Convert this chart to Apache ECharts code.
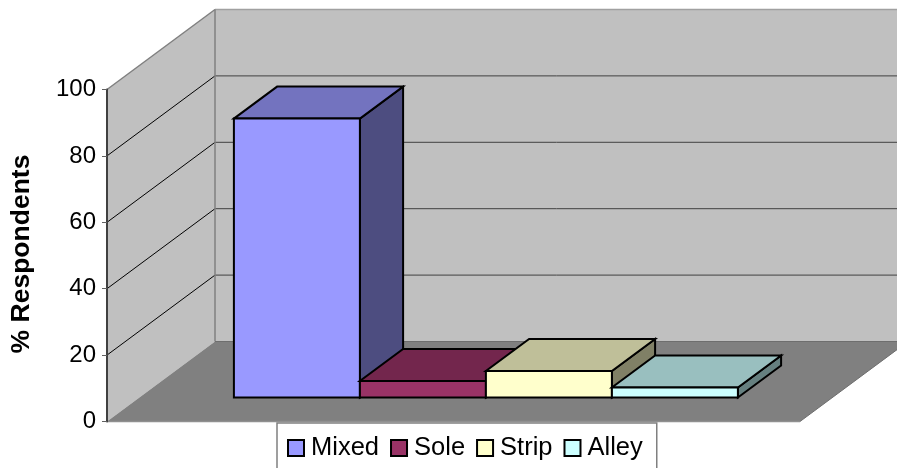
<!DOCTYPE html>
<html>
<head>
<meta charset="utf-8">
<style>html,body{margin:0;padding:0;background:#fff;overflow:hidden}#chart{width:897px;height:468px}</style>
<script src="https://cdn.jsdelivr.net/npm/echarts@6/dist/echarts.min.js"></script>
</head>
<body>
<div id="chart"></div>
<script>
// Cropping systems and the share of respondents using each one
const categories = ['Mixed', 'Sole', 'Strip', 'Alley'];
const respondents = [84, 5, 8, 3];
const yTicks = [0, 20, 40, 60, 80, 100];

const faceColors = ['#9999FF', '#993366', '#FFFFCC', '#CCFFFF'];
const topColors = ['#7373BF', '#73264D', '#BFBF99', '#99BFBF'];
const sideColors = ['#4D4D80', '#4D1A33', '#808066', '#668080'];

// Oblique projection: the full floor depth in pixels, and where the bars sit in it
const DEPTH = [108, -80];
const BAR_NEAR = 0.3;
const BAR_FAR = 0.7;

const shift = (p, f) => [p[0] + DEPTH[0] * f, p[1] + DEPTH[1] * f];

function poly(points, fill, stroke, lineWidth) {
  return {
    type: 'polygon',
    shape: { points },
    style: { fill, stroke, lineWidth, lineJoin: 'miter' }
  };
}

function line(a, b, stroke, lineWidth) {
  return {
    type: 'line',
    shape: { x1: a[0], y1: a[1], x2: b[0], y2: b[1] },
    style: { stroke, lineWidth }
  };
}

// Side wall, back wall, floor and gridlines of the chart box
function renderWalls(params, api) {
  const l0 = api.coord([-0.75, 0]);
  const r0 = api.coord([4.75, 0]);
  const l100 = api.coord([-0.75, 100]);
  const r100 = api.coord([4.75, 100]);
  const children = [
    poly([l0, shift(l0, 1), shift(l100, 1), l100], '#C0C0C0', null, 0),
    poly([shift(l0, 1), shift(r0, 1), shift(r100, 1), shift(l100, 1)], '#C0C0C0', null, 0),
    poly([l0, r0, shift(r0, 1), shift(l0, 1)], '#808080', null, 0)
  ];
  yTicks.slice(1, -1).forEach(t => {
    const a = api.coord([-0.75, t]);
    const b = api.coord([4.75, t]);
    children.push(line(a, shift(a, 1), '#000000', 1));
    children.push(line(shift(a, 1), shift(b, 1), '#404040', 1));
  });
  children.push(line(l100, shift(l100, 1), '#808080', 1.5));
  children.push(line(shift(l100, 1), shift(r100, 1), '#A0A0A0', 1.5));
  children.push(line(shift(l0, 1), shift(l100, 1), '#808080', 1.5));
  children.push(line(shift(l0, 1), shift(r0, 1), '#6E6E6E', 1));
  children.push(line(r0, shift(r0, 1), '#6E6E6E', 1));
  children.push(line(l0, r0, '#909090', 1.5));
  return { type: 'group', children };
}

// One box: front face, lit top and shaded right side
function renderBar(idx) {
  return function (params, api) {
    const i = api.value(0);
    const v = api.value(1);
    const fbl = shift(api.coord([i, 0]), BAR_NEAR);
    const fbr = shift(api.coord([i + 1, 0]), BAR_NEAR);
    const ftl = shift(api.coord([i, v]), BAR_NEAR);
    const ftr = shift(api.coord([i + 1, v]), BAR_NEAR);
    const step = BAR_FAR - BAR_NEAR;
    return {
      type: 'group',
      children: [
        poly([fbr, shift(fbr, step), shift(ftr, step), ftr], sideColors[idx], '#000', 2),
        poly([ftl, ftr, shift(ftr, step), shift(ftl, step)], topColors[idx], '#000', 2),
        poly([fbl, fbr, ftr, ftl], faceColors[idx], '#000', 2)
      ]
    };
  };
}

const barSeries = categories.map((name, idx) => ({
  name,
  type: 'custom',
  z: 3 + idx,
  silent: true,
  itemStyle: { color: faceColors[idx], borderColor: '#000', borderWidth: 1.5 },
  renderItem: renderBar(idx),
  data: [[idx, respondents[idx]]]
}));

const chart = echarts.init(document.getElementById('chart'), null, { renderer: 'canvas' });
chart.setOption({
  animation: false,
  backgroundColor: '#fff',
  textStyle: { fontFamily: '"Liberation Sans", Arial, sans-serif' },
  grid: { left: 107, top: 89.5, width: 693, height: 332 },
  xAxis: { type: 'value', min: -0.75, max: 4.75, show: false },
  yAxis: {
    type: 'value',
    min: 0,
    max: 100,
    interval: 20,
    z: 10,
    name: '% Respondents',
    nameLocation: 'middle',
    nameRotate: 90,
    nameGap: 72,
    nameTextStyle: {
      color: '#000',
      fontSize: 26.5,
      fontWeight: 'bold',
      padding: [0, 0, 0, 3],
      fontFamily: '"Liberation Sans", Arial, sans-serif'
    },
    axisLine: { show: true, onZero: false, lineStyle: { color: '#404040', width: 2 } },
    axisTick: { show: true, length: 5, lineStyle: { color: '#606060', width: 1 } },
    axisLabel: {
      color: '#000',
      fontSize: 24,
      margin: 11,
      fontFamily: '"Liberation Sans", Arial, sans-serif'
    },
    splitLine: { show: false }
  },
  legend: {
    data: categories,
    left: 277,
    top: 423,
    orient: 'horizontal',
    backgroundColor: '#fff',
    borderColor: '#808080',
    borderWidth: 1.5,
    borderRadius: 0,
    padding: [12, 14, 20, 10],
    itemGap: 11,
    itemWidth: 16,
    itemHeight: 16,
    icon: 'rect',
    selectedMode: false,
    textStyle: {
      color: '#000',
      fontSize: 25.5,
      padding: [0, 0, 4, 2],
      fontFamily: '"Liberation Sans", Arial, sans-serif'
    }
  },
  series: [
    {
      name: 'walls',
      type: 'custom',
      z: 1,
      silent: true,
      renderItem: renderWalls,
      data: [[0, 0]]
    }
  ].concat(barSeries)
});
</script>
</body>
</html>
